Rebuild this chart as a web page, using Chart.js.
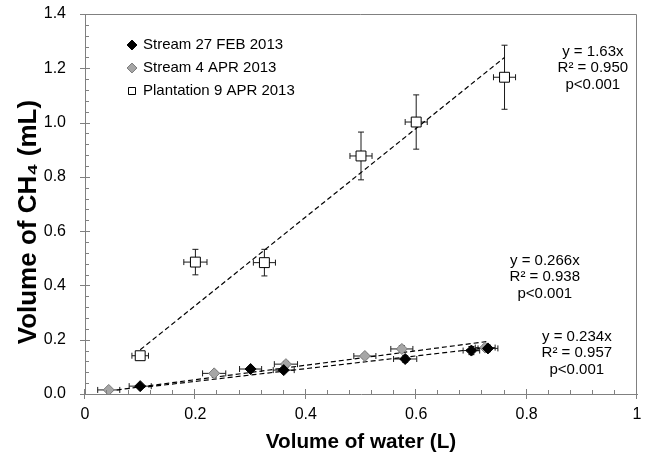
<!DOCTYPE html>
<html><head><meta charset="utf-8">
<script src="https://cdn.jsdelivr.net/npm/chart.js@4.4.1/dist/chart.umd.min.js"></script>
<style>html,body{margin:0;padding:0;background:#fff;}canvas{display:block;}</style>
</head><body>
<canvas id="c" width="645" height="456"></canvas>
<script>
// ---- data ----
const seriesNames = ['Stream 27 FEB 2013', 'Stream 4 APR 2013', 'Plantation 9 APR 2013'];

const feb27X    = [0.10, 0.30, 0.36, 0.58, 0.70, 0.73];
const feb27Y    = [0.029, 0.092, 0.088, 0.129, 0.160, 0.168];
const feb27XErr = [0.020, 0.020, 0.019, 0.021, 0.015, 0.018];
const feb27YErr = [0.006, 0.008, 0.008, 0.012, 0.015, 0.012];

const apr4X    = [0.043, 0.234, 0.364, 0.507, 0.574, 0.725];
const apr4Y    = [0.015, 0.076, 0.110, 0.140, 0.166, 0.171];
const apr4XErr = [0.020, 0.021, 0.021, 0.020, 0.020, 0.018];
const apr4YErr = [0.005, 0.008, 0.010, 0.008, 0.012, 0.010];

const plantX    = [0.10, 0.20, 0.325, 0.50, 0.60, 0.76];
const plantY    = [0.141, 0.486, 0.484, 0.877, 1.002, 1.167];
const plantXErr = [0.015, 0.021, 0.020, 0.020, 0.020, 0.020];
const plantYErr = [0.012, 0.047, 0.049, 0.088, 0.100, 0.118];

// trend line end points
const fitPlantX = [0.10, 0.76],  fitPlantY = [0.163, 1.24];
const fitApr4X  = [0.043, 0.727], fitApr4Y = [0.011, 0.193];
const fitFeb27X = [0.10, 0.731], fitFeb27Y = [0.023, 0.171];

const fitLabels = [
  ['y = 1.63x', 'R² = 0.950', 'p<0.001'],
  ['y = 0.266x', 'R² = 0.938', 'p<0.001'],
  ['y = 0.234x', 'R² = 0.957', 'p<0.001']
];
const xTickLabels = ['0', '0.2', '0.4', '0.6', '0.8', '1'];
const yTickLabels = ['0.0', '0.2', '0.4', '0.6', '0.8', '1.0', '1.2', '1.4'];
const xTitle = 'Volume of water (L)';
const yTitle = 'Volume of CH\u2084 (mL)';

// ---- layout / style (not data) ----
const fitLabelPos = [{x: 0.92, y: 1.261}, {x: 0.833, y: 0.491}, {x: 0.891, y: 0.211}];
const FONT = "'Liberation Sans', Arial, sans-serif";
const AXIS_GRAY = '#808080';

const pts = (xs, ys) => xs.map((v, i) => ({x: v, y: ys[i]}));

Chart.defaults.font.family = FONT;
Chart.defaults.color = '#000';

const errSets = [
  {x: plantX, y: plantY, ex: plantXErr, ey: plantYErr},
  {x: apr4X, y: apr4Y, ex: apr4XErr, ey: apr4YErr},
  {x: feb27X, y: feb27Y, ex: feb27XErr, ey: feb27YErr}
];

const errorBarPlugin = {
  id: 'errorBars',
  beforeDatasetsDraw(chart) {
    const {ctx, scales: {x, y}} = chart;
    ctx.save();
    ctx.strokeStyle = '#1a1a1a';
    ctx.lineWidth = 1;
    const cap = 3;
    errSets.forEach(s => {
      s.x.forEach((xv, i) => {
        const px = x.getPixelForValue(xv), py = y.getPixelForValue(s.y[i]);
        const x0 = x.getPixelForValue(xv - s.ex[i]), x1 = x.getPixelForValue(xv + s.ex[i]);
        const y0 = y.getPixelForValue(s.y[i] - s.ey[i]), y1 = y.getPixelForValue(s.y[i] + s.ey[i]);
        ctx.beginPath();
        ctx.moveTo(x0, py); ctx.lineTo(x1, py);
        ctx.moveTo(x0, py - cap); ctx.lineTo(x0, py + cap);
        ctx.moveTo(x1, py - cap); ctx.lineTo(x1, py + cap);
        ctx.moveTo(px, y0); ctx.lineTo(px, y1);
        ctx.moveTo(px - cap, y0); ctx.lineTo(px + cap, y0);
        ctx.moveTo(px - cap, y1); ctx.lineTo(px + cap, y1);
        ctx.stroke();
      });
    });
    ctx.restore();
  }
};

const axisDecorPlugin = {
  id: 'axisDecor',
  afterLayout(chart) {
    const lg = chart.legend;
    if (lg) { lg.left += 35.5; lg.right += 35.5; lg.top += 29.5; lg.bottom += 29.5; }
  },
  afterDraw(chart) {
    const {ctx, chartArea: a, scales: {x, y}} = chart;
    ctx.save();
    ctx.strokeStyle = AXIS_GRAY;
    ctx.lineWidth = 1;
    ctx.beginPath();
    // frame top & right
    ctx.moveTo(a.left, a.top + 0.5); ctx.lineTo(a.right - 0.5, a.top + 0.5); ctx.lineTo(a.right - 0.5, a.bottom);
    // x ticks
    const xs = x.ticks.map(t => t.value);
    const xStep = (xs[1] - xs[0]) / 5;
    for (let i = 0; i < xs.length; i++) {
      const px = Math.round(x.getPixelForValue(xs[i])) - 0.5;
      ctx.moveTo(px, a.bottom - 5); ctx.lineTo(px, a.bottom + 5);
      if (i < xs.length - 1) {
        for (let k = 1; k < 5; k++) {
          const mx = Math.round(x.getPixelForValue(xs[i] + k * xStep)) - 0.5;
          ctx.moveTo(mx, a.bottom - 4); ctx.lineTo(mx, a.bottom);
        }
      }
    }
    // y ticks
    const ys = y.ticks.map(t => t.value);
    const yStep = (ys[1] - ys[0]) / 5;
    for (let i = 0; i < ys.length; i++) {
      const py = Math.round(y.getPixelForValue(ys[i])) + 0.5;
      ctx.moveTo(a.left - 5, py); ctx.lineTo(a.left + 5, py);
      if (i < ys.length - 1) {
        for (let k = 1; k < 5; k++) {
          const my = Math.round(y.getPixelForValue(ys[i] + k * yStep)) + 0.5;
          ctx.moveTo(a.left, my); ctx.lineTo(a.left + 4, my);
        }
      }
    }
    ctx.stroke();
    ctx.restore();
  },
  afterDatasetsDraw(chart) {
    const {ctx, scales: {x, y}} = chart;
    ctx.save();
    ctx.font = '15px ' + FONT;
    ctx.fillStyle = '#000';
    ctx.textAlign = 'center';
    ctx.textBaseline = 'middle';
    fitLabels.forEach((lines, j) => {
      const px = x.getPixelForValue(fitLabelPos[j].x);
      const py = y.getPixelForValue(fitLabelPos[j].y);
      lines.forEach((t, k) => ctx.fillText(t, px, py + k * 16.5));
    });
    ctx.restore();
  }
};

const trend = (xs, ys) => ({
  data: pts(xs, ys), showLine: true, pointRadius: 0, borderColor: '#000',
  borderWidth: 1.2, borderDash: [5, 3], fill: false, tension: 0
});

new Chart(document.getElementById('c'), {
  type: 'scatter',
  data: {
    datasets: [
      {label: seriesNames[0], data: pts(feb27X, feb27Y), pointStyle: 'rectRot', pointRadius: 5.5,
       backgroundColor: '#000', borderColor: '#000', borderWidth: 1},
      {label: seriesNames[1], data: pts(apr4X, apr4Y), pointStyle: 'rectRot', pointRadius: 5.5,
       backgroundColor: '#a6a6a6', borderColor: '#7a7a7a', borderWidth: 1},
      {label: seriesNames[2], data: pts(plantX, plantY), pointStyle: 'rect', pointRadius: 7,
       backgroundColor: '#fff', borderColor: '#000', borderWidth: 1},
      Object.assign({label: 'fitPlant'}, trend(fitPlantX, fitPlantY)),
      Object.assign({label: 'fitApr4'}, trend(fitApr4X, fitApr4Y)),
      Object.assign({label: 'fitFeb27'}, trend(fitFeb27X, fitFeb27Y))
    ]
  },
  options: {
    responsive: false,
    animation: false,
    layout: {padding: {top: 14, right: 8, left: 0, bottom: 0}},
    plugins: {
      tooltip: {enabled: false},
      legend: {
        position: 'chartArea',
        align: 'start',
        labels: {
          usePointStyle: true, boxWidth: 7, boxHeight: 7, padding: 8,
          font: {size: 15}, color: '#000',
          filter: item => item.datasetIndex < 3
        }
      }
    },
    scales: {
      x: {
        type: 'linear', min: 0, max: 1,
        ticks: {stepSize: 0.2, padding: 11, font: {size: 16}, color: '#000',
                autoSkip: false, maxRotation: 0,
                callback: (v, i) => xTickLabels[i]},
        grid: {display: false, drawTicks: false},
        border: {display: true, color: AXIS_GRAY, width: 1},
        title: {display: true, text: xTitle, font: {size: 20.7, weight: 'bold'}, color: '#000',
                padding: {top: 0, bottom: 1}},
        afterFit: s => { s.height = 62; s.paddingLeft = 0; s.paddingRight = 0; }
      },
      y: {
        type: 'linear', min: 0, max: 1.4,
        ticks: {stepSize: 0.2, padding: 19, font: {size: 16}, color: '#000',
                autoSkip: false, callback: (v, i) => yTickLabels[i]},
        grid: {display: false, drawTicks: false},
        border: {display: true, color: AXIS_GRAY, width: 1},
        title: {display: true, text: yTitle + '     ', font: {size: 26, weight: 'bold'}, color: '#000',
                padding: {top: 13, bottom: 0}},
        afterFit: s => { s.width = 85; s.paddingTop = 0; s.paddingBottom = 0; }
      }
    }
  },
  plugins: [errorBarPlugin, axisDecorPlugin]
});
</script>
</body></html>
